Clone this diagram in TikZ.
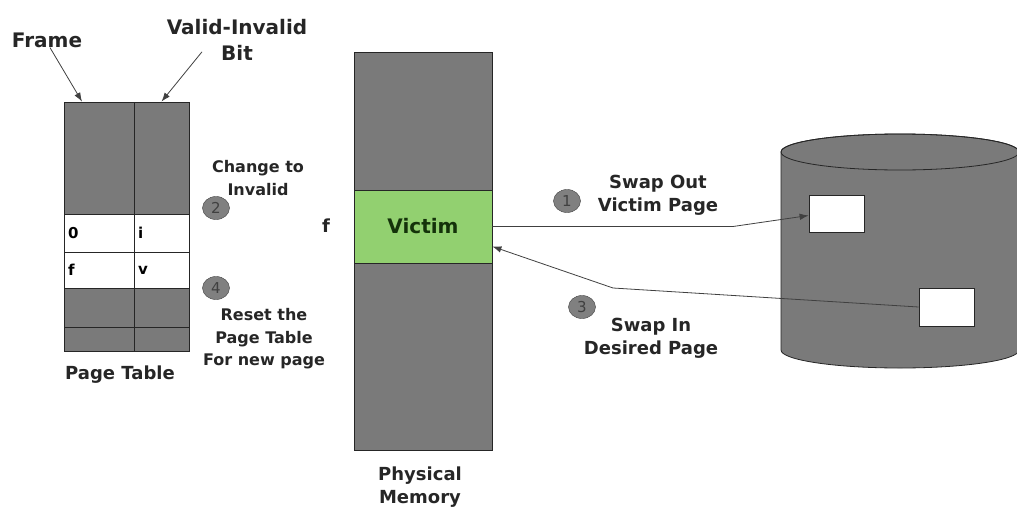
\documentclass[tikz,border=0pt]{standalone}
\usepackage{fontspec}
\setmainfont{DejaVu Sans}
\usetikzlibrary{arrows.meta,shapes.geometric}
\definecolor{memgray}{RGB}{122,122,122}
\definecolor{victimgreen}{RGB}{146,208,112}
\definecolor{victimtext}{RGB}{20,50,10}

\begin{document}
\begin{tikzpicture}[x=1pt, y=-1pt, >={Latex[length=9pt,width=6.5pt]},
	lbl/.style={font=\fontsize{18}{23}\selectfont\bfseries, text=black!85, align=center, inner sep=0pt},
	big/.style={lbl, font=\fontsize{20}{26}\selectfont\bfseries},
	stp/.style={lbl, font=\fontsize{16}{22.5}\selectfont\bfseries},
	cell/.style={draw=black!85, line width=0.8pt, fill=memgray, inner sep=0pt, minimum width=70},
	bitcell/.style={cell, minimum width=55},
	entry/.style={cell, fill=white, inner sep=4pt, text width=62, align=left, font=\fontsize{15}{18}\selectfont\bfseries},
	bitentry/.style={entry, minimum width=55, text width=47},
	num/.style={ellipse, draw=black!75, fill=black!50, minimum width=27, minimum height=23, inner sep=0pt, font=\fontsize{15}{15}\selectfont, text=black!75},
	link/.style={->, draw=black!75, line width=0.8pt}]
	\useasboundingbox (0,0) rectangle (1017,506);
	% page table
	\node[cell, minimum height=112] (f1) at (99,158) {}; \node[bitcell, minimum height=112] (v1) at (161.5,158) {};
	\node[entry, minimum height=38] (f2) at (99,233) {0}; \node[bitentry, minimum height=38] (v2) at (161.5,233) {i};
	\node[entry, minimum height=36] (f3) at (99,270) {f}; \node[bitentry, minimum height=36] (v3) at (161.5,270) {v};
	\node[cell, minimum height=39] (f4) at (99,307.5) {}; \node[bitcell, minimum height=39] (v4) at (161.5,307.5) {};
	\node[cell, minimum height=24] (f5) at (99,339) {}; \node[bitcell, minimum height=24] (v5) at (161.5,339) {};
	\node[lbl] (pt) at (120,375) {Page Table};
	\node[big] (frm) at (47,40) {Frame};
	\node[big] (vib) at (237,40) {Valid-Invalid\\Bit};
	\draw[link] ([xshift=3pt]frm.south) -- ([xshift=-17pt]f1.north);
	\draw[link] ([xshift=-35pt,yshift=9pt]vib.south) -- (v1.north);
	\node[num] (s2) at (216,208) {2}; \node[stp] (chg) at (258,178) {Change to\\Invalid};
	\node[num] (s4) at (216,288) {4}; \node[stp] (rst) at (264,339) {Reset the\\Page Table\\For new page};
	% physical memory
	\node[cell, minimum width=138, minimum height=138] (mtop) at (423,121) {};
	\node[cell, fill=victimgreen, minimum width=138, minimum height=73, font=\fontsize{20}{20}\selectfont\bfseries, text=victimtext] (victim) at (423,226.5) {Victim};
	\node[cell, minimum width=138, minimum height=187] (mbot) at (423,356.5) {};
	\node[lbl] (fr) at (326,226) {f};
	\node[lbl] (pm) at (420,487) {Physical\\Memory};
	% backing store
	\filldraw[fill=memgray, draw=black!85, line width=0.8pt] (781,152) -- (781,350) arc[start angle=180, end angle=0, x radius=119, y radius=18] -- (1019,152) arc[start angle=0, end angle=-180, x radius=119, y radius=18] -- cycle;
	\draw[draw=black!85, line width=0.8pt] (900,152) ellipse [x radius=119, y radius=18];
	\node[cell, fill=white, minimum width=55, minimum height=37] (db1) at (836.5,213.5) {};
	\node[cell, fill=white, minimum width=55, minimum height=38] (db2) at (946.5,307) {};
	\coordinate (b1) at (733,226.5); \coordinate (b3) at (613,288);
	\draw[link] (victim.east) -- (b1) -- ([yshift=-2pt]db1.west);
	\draw[link] (db2.west) -- (b3) -- ([yshift=-20pt]victim.east);
	\node[num] (s1) at (567,201) {1}; \node[lbl] (out) at (658,195) {Swap Out\\Victim Page};
	\node[num] (s3) at (582,307) {3}; \node[lbl] (in) at (651,338) {Swap In\\Desired Page};
\end{tikzpicture}
\end{document}
